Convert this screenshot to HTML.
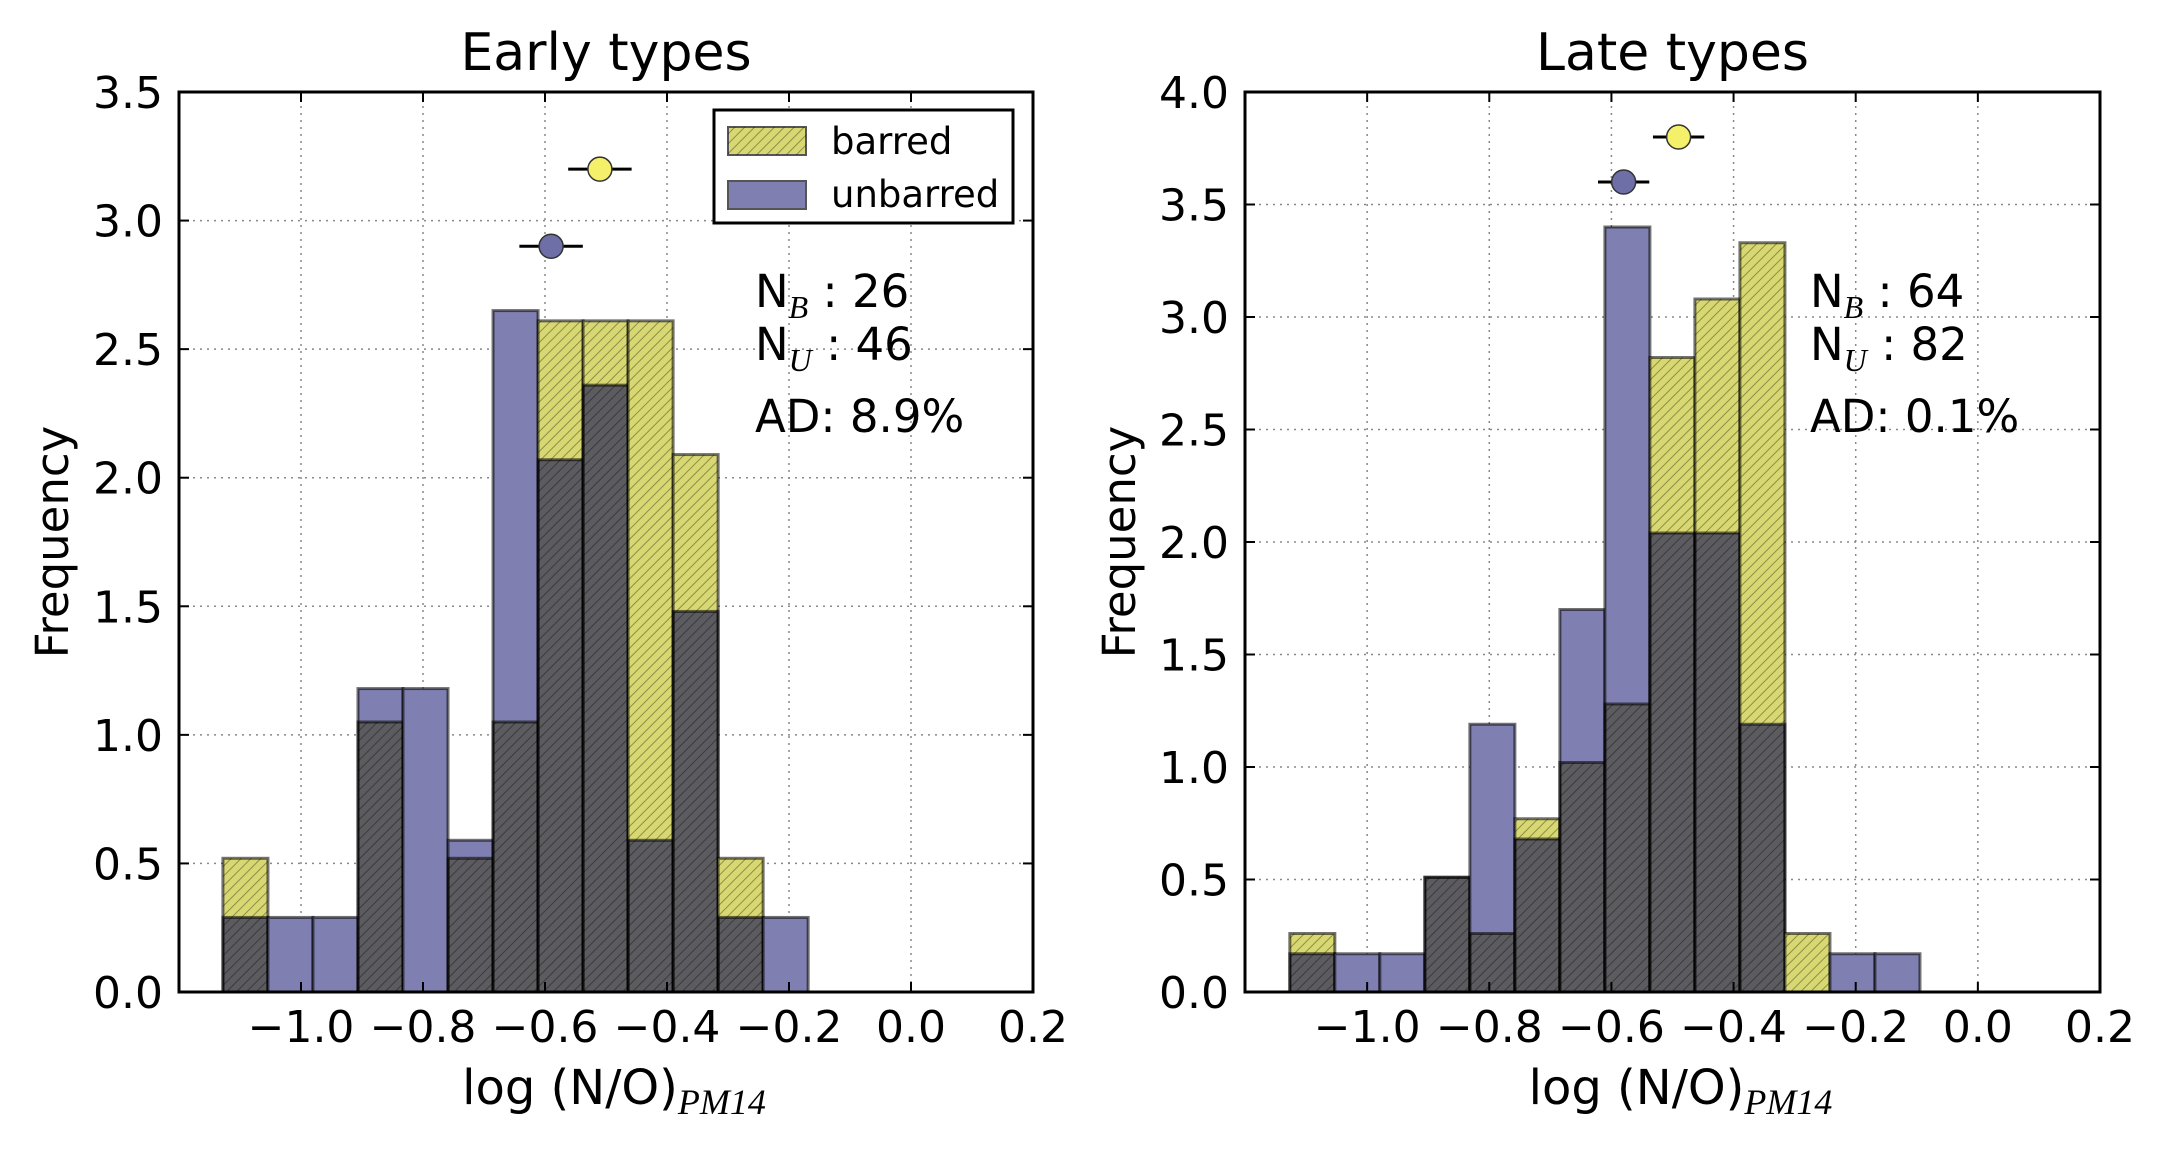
<!DOCTYPE html>
<html><head><meta charset="utf-8"><style>
html,body{margin:0;padding:0;background:#fff;}
svg{display:block;font-family:"DejaVu Sans","Liberation Sans",sans-serif;}
</style></head><body>
<svg id="chart" width="2161" height="1149" viewBox="0 0 2161 1149" xmlns="http://www.w3.org/2000/svg">
<defs>
<pattern id="hatch" patternUnits="userSpaceOnUse" width="7" height="7" patternTransform="rotate(45)">
<line x1="0" y1="0" x2="0" y2="7" stroke="#000" stroke-opacity="0.35" stroke-width="2"/>
</pattern>
</defs>
</svg>
<script>
// ---- data ----
const xTicks = [-1.0, -0.8, -0.6, -0.4, -0.2, 0.0, 0.2];
const xTickLabels = ["\u22121.0", "\u22120.8", "\u22120.6", "\u22120.4", "\u22120.2", "0.0", "0.2"];
const earlyEdgeStart = -1.128;
const earlyBinWidth = 0.0738;
const earlyBarred = [0.52, 0, 0, 1.05, 0, 0.52, 1.05, 2.61, 2.61, 2.61, 2.09, 0.52, 0];
const earlyUnbarred = [0.29, 0.29, 0.29, 1.18, 1.18, 0.59, 2.65, 2.07, 2.36, 0.59, 1.48, 0.29, 0.29];
const earlyYTicks = [0.0, 0.5, 1.0, 1.5, 2.0, 2.5, 3.0, 3.5];
const earlyMeans = [{x: -0.51, y: 3.2, err: 0.052}, {x: -0.59, y: 2.9, err: 0.052}];
const earlyStats = ["26", "46", "AD: 8.9%"];

const lateEdgeStart = -1.1266;
const lateBinWidth = 0.0737;
const lateBarred = [0.26, 0, 0, 0.51, 0.26, 0.77, 1.02, 1.28, 2.82, 3.08, 3.33, 0.26, 0, 0];
const lateUnbarred = [0.17, 0.17, 0.17, 0.51, 1.19, 0.68, 1.70, 3.40, 2.04, 2.04, 1.19, 0, 0.17, 0.17];
const lateYTicks = [0.0, 0.5, 1.0, 1.5, 2.0, 2.5, 3.0, 3.5, 4.0];
const lateMeans = [{x: -0.49, y: 3.8, err: 0.042}, {x: -0.58, y: 3.6, err: 0.042}];
const lateStats = ["64", "82", "AD: 0.1%"];

const NS = "http://www.w3.org/2000/svg";
const svg = document.getElementById("chart");
function mk(tag, attrs, parent) {
  const e = document.createElementNS(NS, tag);
  for (const k in attrs) e.setAttribute(k, attrs[k]);
  (parent || svg).appendChild(e);
  return e;
}

function panel(o) {
  const g = mk("g", {});
  
  
  const L = o.left, R = o.right, T = 92, B = 992;
  const xmin = -1.2, xmax = 0.2;
  const sx = v => L + (v - xmin) / (xmax - xmin) * (R - L);
  const sy = v => B - v / o.ymax * (B - T);
  xTicks.forEach(t => {
    const gl = mk("line", {x1: sx(t), x2: sx(t), y1: T, y2: B, stroke: "#888", "stroke-width": 1.5, "stroke-dasharray": "2,5"}, g);
    
    
  });
  o.yTicks.forEach(t => {
    const gl = mk("line", {x1: L, x2: R, y1: sy(t), y2: sy(t), stroke: "#888", "stroke-width": 1.5, "stroke-dasharray": "2,5"}, g);
    
    
  });
  for (let i = 0; i < o.barred.length; i++) {
    const x0 = sx(o.start + i * o.w), x1 = sx(o.start + (i + 1) * o.w);
    const b = o.barred[i], u = o.unbarred[i];
    const lo = Math.min(b, u), hi = Math.max(b, u);
    if (hi > lo) {
      const isB = b > u;
      const r = mk("rect", {x: x0, y: sy(hi), width: x1 - x0, height: sy(lo) - sy(hi), fill: isB ? "#d8d872" : "#7f7fb1"}, g);
      
      
      if (isB) mk("rect", {x: x0, y: sy(hi), width: x1 - x0, height: sy(lo) - sy(hi), fill: "url(#hatch)"}, g);
    }
    if (lo > 0) {
      const r = mk("rect", {x: x0, y: sy(lo), width: x1 - x0, height: sy(0) - sy(lo), fill: "#5b5b60"}, g);
      
      
      mk("rect", {x: x0, y: sy(lo), width: x1 - x0, height: sy(0) - sy(lo), fill: "url(#hatch)"}, g);
    }
    if (u > 0) mk("rect", {x: x0, y: sy(u), width: x1 - x0, height: sy(0) - sy(u), fill: "none", stroke: "#000", "stroke-opacity": 0.55, "stroke-width": 3}, g);
    if (b > 0) mk("rect", {x: x0, y: sy(b), width: x1 - x0, height: sy(0) - sy(b), fill: "none", stroke: "#000", "stroke-opacity": 0.55, "stroke-width": 3}, g);
  }
  const cols = ["#f5f06a", "#6f6fa8"];
  o.means.forEach((m, k) => {
    mk("line", {x1: sx(m.x - m.err), x2: sx(m.x + m.err), y1: sy(m.y), y2: sy(m.y), stroke: "#000", "stroke-width": 3}, g);
    const c = mk("circle", {cx: sx(m.x), cy: sy(m.y), r: 12, fill: cols[k], stroke: "#333", "stroke-width": 1.5}, g);
    
    
  });
  const fr = mk("rect", {x: L, y: T, width: R - L, height: B - T, fill: "none", stroke: "#000", "stroke-width": 3}, g);
  
  
  xTicks.forEach((t, i) => {
    mk("line", {x1: sx(t), x2: sx(t), y1: B, y2: B - 10, stroke: "#000", "stroke-width": 2}, g);
    mk("line", {x1: sx(t), x2: sx(t), y1: T, y2: T + 10, stroke: "#000", "stroke-width": 2}, g);
    const tx = mk("text", {x: sx(t), y: B + 50, "font-size": 44, "text-anchor": "middle", fill: "#000"}, g);
    tx.textContent = xTickLabels[i];
    
    
  });
  o.yTicks.forEach(t => {
    mk("line", {x1: L, x2: L + 10, y1: sy(t), y2: sy(t), stroke: "#000", "stroke-width": 2}, g);
    mk("line", {x1: R, x2: R - 10, y1: sy(t), y2: sy(t), stroke: "#000", "stroke-width": 2}, g);
    const tx = mk("text", {x: L - 16, y: sy(t) + 16, "font-size": 44, "text-anchor": "end", fill: "#000"}, g);
    tx.textContent = t.toFixed(1);
    
    
  });
  const ti = mk("text", {x: (L + R) / 2, y: 70, "font-size": 52, "text-anchor": "middle", fill: "#000"}, g);
  ti.textContent = o.title;
  
  
  const yl = mk("text", {x: 0, y: 0, "font-size": 45, "text-anchor": "middle", fill: "#000", transform: `translate(${o.ylabX},${(T + B) / 2}) rotate(-90)`}, g);
  yl.textContent = "Frequency";
  
  
  const xl = mk("text", {x: (L + R) / 2 + 8, y: 1104, "font-size": 48, "text-anchor": "middle", fill: "#000"}, g);
  
  
  const xa = mk("tspan", {}, xl); xa.textContent = "log (N/O)";
  const xb = mk("tspan", {dy: 10, "font-size": 36, "font-style": "italic", "font-family": "Liberation Serif, serif"}, xl); xb.textContent = "PM14";
  const ax = o.statX;
  [["N", "B", ": " + o.stats[0], 307], ["N", "U", ": " + o.stats[1], 360]].forEach(s => {
    const t = mk("text", {x: ax, y: s[3], "font-size": 45, fill: "#000"}, g);
    
    
    const a = mk("tspan", {}, t); a.textContent = s[0];
    const b = mk("tspan", {dy: 11, "font-size": 32, "font-style": "italic", "font-family": "Liberation Serif, serif"}, t); b.textContent = s[1];
    const c = mk("tspan", {dy: -11}, t); c.textContent = " " + s[2];
  });
  const ad = mk("text", {x: ax, y: 432, "font-size": 45, fill: "#000"}, g);
  ad.textContent = o.stats[2];
  
  
  return g;
}

panel({name: "early-types-panel", title: "Early types", left: 179, right: 1033, ymax: 3.5, yTicks: earlyYTicks, barred: earlyBarred, unbarred: earlyUnbarred, start: earlyEdgeStart, w: earlyBinWidth, means: earlyMeans, stats: earlyStats, statX: 755, ylabX: 68});
panel({name: "late-types-panel", title: "Late types", left: 1245, right: 2100, ymax: 4.0, yTicks: lateYTicks, barred: lateBarred, unbarred: lateUnbarred, start: lateEdgeStart, w: lateBinWidth, means: lateMeans, stats: lateStats, statX: 1810, ylabX: 1135});

const lg = mk("g", {});


mk("rect", {x: 714, y: 110, width: 299, height: 113, fill: "#fff", stroke: "#000", "stroke-width": 3}, lg);
mk("rect", {x: 728, y: 127, width: 78, height: 28, fill: "#d8d872", stroke: "#555", "stroke-width": 2}, lg);
mk("rect", {x: 728, y: 127, width: 78, height: 28, fill: "url(#hatch)"}, lg);
mk("rect", {x: 728, y: 181, width: 78, height: 28, fill: "#7f7fb1", stroke: "#555", "stroke-width": 2}, lg);
const l1 = mk("text", {x: 831, y: 154, "font-size": 37, fill: "#000"}, lg);
l1.textContent = "barred";


const l2 = mk("text", {x: 831, y: 207, "font-size": 37, fill: "#000"}, lg);
l2.textContent = "unbarred";


</script>
</body></html>
